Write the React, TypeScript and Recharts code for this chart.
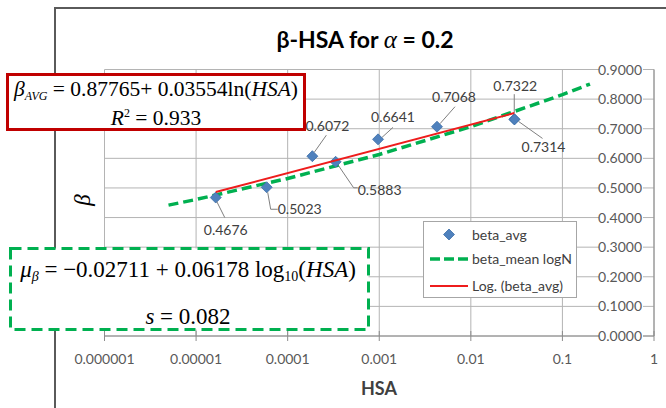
import { ScatterChart, Scatter, XAxis, YAxis, CartesianGrid, Legend } from "recharts";

// beta_avg points
const hsa = [1.64e-5, 5.9e-5, 1.86e-4, 3.34e-4, 9.7e-4, 4.27e-3, 0.0298, 0.03];
const betaAvg = [0.4676, 0.5023, 0.6072, 0.5883, 0.6641, 0.7068, 0.7322, 0.7314];

// beta_mean logN curve
const meanHsa = [5e-6, 1e-5, 1e-4, 1e-3, 1e-2, 1e-1, 0.2];
const betaMean = [0.442, 0.461, 0.532, 0.613, 0.707, 0.815, 0.851];

// Log. (beta_avg) trendline ends
const fitHsa = [1.64e-5, 0.0298];
const fitBeta = [0.4861, 0.7528];

const xTicks = [1e-6, 1e-5, 1e-4, 1e-3, 1e-2, 1e-1, 1];
const xTickLabels = ["0.000001", "0.00001", "0.0001", "0.001", "0.01", "0.1", "1"];
const yTicks = [0, 0.1, 0.2, 0.3, 0.4, 0.5, 0.6, 0.7, 0.8, 0.9];

// where each data label sits relative to its point, with its leader line
const labelSpots = [
  { dx: 10, dy: 32, lead: [[1, 4], [9, 20]] },
  { dx: 33, dy: 22, lead: [[1, 5], [4, 22], [11, 22]] },
  { dx: 15, dy: -30, lead: [[2, -4], [14, -21]] },
  { dx: 44, dy: 28, lead: [[3, 4], [18, 26], [22, 26]] },
  { dx: 15, dy: -22, lead: [[4, -2], [15, -12]] },
  { dx: 17, dy: -30, lead: [[3, -3], [18, -20]] },
  { dx: 1, dy: -33, lead: [[0, -6], [0, -25]] },
  { dx: 29, dy: 28, lead: [[4, 2], [28, 19]] },
];

const avgRows = hsa.map((h, i) => ({ hsa: h, beta: betaAvg[i], idx: i }));
const meanRows = meanHsa.map((h, i) => ({ hsa: h, beta: betaMean[i] }));
const fitRows = fitHsa.map((h, i) => ({ hsa: h, beta: fitBeta[i] }));

const AXIS = "#8c8c8c";
const GRID = "#b4b4b4";
const LABEL = "#595959";
const GREEN = "#00b050";
const RED = "#ee1c1c";
const BLUE = "#4f81bd";
const SANS = "Lato, 'DejaVu Sans', sans-serif";
const SERIF = "'Liberation Serif', 'DejaVu Serif', serif";

const XTick = (props: any) => {
  const { x, y, index } = props;
  return (
    <g>
      <line x1={x} x2={x} y1={y - 5} y2={y + 5} stroke={AXIS} />
      <text x={x} y={y + 28} textAnchor="middle" fontSize={14} fill={LABEL} fontFamily={SANS}>
        {xTickLabels[index]}
      </text>
    </g>
  );
};

const YTick = (props: any) => {
  const { x, y, payload } = props;
  return (
    <g>
      <rect x={x - 55} y={y - 7} width={44} height={14} fill="#fff" />
      <text x={x - 12} y={y + 5} textAnchor="end" fontSize={14} fill={LABEL} fontFamily={SANS}>
        {Number(payload.value).toFixed(4)}
      </text>
    </g>
  );
};

const Diamond = (props: any) => {
  const { cx, cy, payload } = props;
  const spot = labelSpots[payload.idx];
  const pts = spot.lead.map(([a, b]) => `${cx + a},${cy + b}`).join(" ");
  const r = 5.5;
  return (
    <g>
      <polygon
        points={`${cx},${cy - r} ${cx + r},${cy} ${cx},${cy + r} ${cx - r},${cy}`}
        fill={BLUE}
        stroke="#3c6ea8"
        strokeWidth={0.8}
      />
      <polyline points={pts} fill="none" stroke="#7f7f7f" strokeWidth={1} />
      <text
        x={cx + spot.dx}
        y={cy + spot.dy + 5}
        textAnchor="middle"
        fontSize={14}
        fill="#404040"
        fontFamily={SANS}
      >
        {payload.beta.toFixed(4)}
      </text>
    </g>
  );
};

const NoDot = () => <g />;

const LegendBox = () => (
  <div style={{ width: 154, height: 77, border: "1px solid #a6a6a6", background: "#fff", boxSizing: "border-box" }}>
    <svg width={152} height={75} style={{ display: "block" }}>
      <polygon points="25,7 30.5,12.5 25,18 19.5,12.5" fill={BLUE} stroke="#3c6ea8" strokeWidth={0.8} />
      <text x={48} y={18} fontSize={14} fill="#404040" fontFamily={SANS}>beta_avg</text>
      <line x1={6} x2={44} y1={37} y2={37} stroke={GREEN} strokeWidth={3.5} strokeDasharray="10 4" />
      <text x={48} y={42} fontSize={14} fill="#404040" fontFamily={SANS}>beta_mean logN</text>
      <line x1={6} x2={44} y1={64} y2={64} stroke={RED} strokeWidth={2} />
      <text x={48} y={69} fontSize={14} fill="#404040" fontFamily={SANS}>Log. (beta_avg)</text>
    </svg>
  </div>
);

export default function App() {
  return (
    <div style={{ position: "absolute", left: 0, top: 0, width: 666, height: 408, overflow: "hidden", background: "#fff" }}>
      {/* chart area border */}
      <div
        style={{
          position: "absolute",
          left: 54,
          top: 7,
          width: 700,
          height: 500,
          borderLeft: "2px solid #5a5a5a",
          borderTop: "2px solid #5a5a5a",
        }}
      />
      <div style={{ position: "absolute", left: 0, top: 0 }}>
        <ScatterChart width={666} height={408} margin={{ top: 69.5, right: 11, bottom: 42, left: 104.5 }}>
          <CartesianGrid stroke={GRID} strokeWidth={1} />
          <XAxis
            type="number"
            dataKey="hsa"
            scale="log"
            domain={[1e-6, 1]}
            ticks={xTicks}
            allowDataOverflow
            height={30}
            axisLine={{ stroke: AXIS }}
            tickLine={false}
            tickSize={0}
            tickMargin={0}
            tick={<XTick />}
            interval={0}
          />
          <YAxis
            type="number"
            dataKey="beta"
            orientation="right"
            domain={[0, 0.9]}
            ticks={yTicks}
            width={1}
            axisLine={{ stroke: AXIS }}
            tickLine={false}
            tickSize={0}
            tickMargin={0}
            tick={<YTick />}
            interval={0}
          />
          <Legend
            layout="vertical"
            align="center"
            verticalAlign="middle"
            content={<LegendBox />}
            wrapperStyle={{ left: 423, top: 221, width: 154, height: 77 }}
          />
          <Scatter
            name="beta_mean logN"
            data={meanRows}
            shape={<NoDot />}
            line={{ stroke: GREEN, strokeWidth: 3.5, strokeDasharray: "10 5" }}
            isAnimationActive={false}
          />
          <Scatter name="beta_avg" data={avgRows} shape={<Diamond />} isAnimationActive={false} />
          <Scatter
            name="Log. (beta_avg)"
            data={fitRows}
            shape={<NoDot />}
            line={{ stroke: RED, strokeWidth: 2 }}
            isAnimationActive={false}
          />
        </ScatterChart>
      </div>
      <svg width={666} height={408} style={{ position: "absolute", left: 0, top: 0, pointerEvents: "none" }}>
        <text x={365} y={48} textAnchor="middle" fontSize={23} fontWeight="bold" fill="#000" fontFamily={SANS}>
          β-HSA for{" "}
          <tspan fontFamily={SERIF} fontStyle="italic" fontWeight="normal" fontSize={25}>α</tspan>
          {" "}= 0.2
        </text>
        <text x={379} y={395} textAnchor="middle" fontSize={18} fontWeight="bold" fill="#404040" fontFamily={SANS}>
          HSA
        </text>
        <text
          x={85}
          y={200}
          transform="rotate(-90 85 200)"
          textAnchor="middle"
          dominantBaseline="middle"
          fontSize={23}
          fontStyle="italic"
          fill="#000"
          fontFamily={SERIF}
        >
          β
        </text>

        {/* fitted log trend of beta_avg */}
        <rect x={7.5} y={74.5} width={297} height={55} fill="#fff" stroke="#c00000" strokeWidth={3} />
        <text x={156} y={96} textAnchor="middle" fontSize={21.5} fill="#000" fontFamily={SERIF}>
          <tspan fontStyle="italic">β</tspan>
          <tspan fontStyle="italic" fontSize={12} dy={4}>AVG</tspan>
          <tspan dy={-4}> = 0.87765+ 0.03554ln(</tspan>
          <tspan fontStyle="italic">HSA</tspan>
          <tspan>)</tspan>
        </text>
        <text x={156} y={125} textAnchor="middle" fontSize={21.5} fill="#000" fontFamily={SERIF}>
          <tspan fontStyle="italic">R</tspan>
          <tspan fontSize={12} dy={-8}>2</tspan>
          <tspan dy={8}> = 0.933</tspan>
        </text>

        {/* lognormal mean of beta */}
        <rect x={10.5} y={248.5} width={358} height={81} fill="#fff" stroke={GREEN} strokeWidth={3} strokeDasharray="11 6" />
        <text x={188} y={277} textAnchor="middle" fontSize={23} fill="#000" fontFamily={SERIF}>
          <tspan fontStyle="italic">μ</tspan>
          <tspan fontStyle="italic" fontSize={14} dy={4}>β</tspan>
          <tspan dy={-4}> = −0.02711 + 0.06178 log</tspan>
          <tspan fontSize={14} dy={4}>10</tspan>
          <tspan dy={-4}>(</tspan>
          <tspan fontStyle="italic">HSA</tspan>
          <tspan>)</tspan>
        </text>
        <text x={188} y={324} textAnchor="middle" fontSize={23} fill="#000" fontFamily={SERIF}>
          <tspan fontStyle="italic">s</tspan>
          <tspan> = 0.082</tspan>
        </text>
      </svg>
    </div>
  );
}
